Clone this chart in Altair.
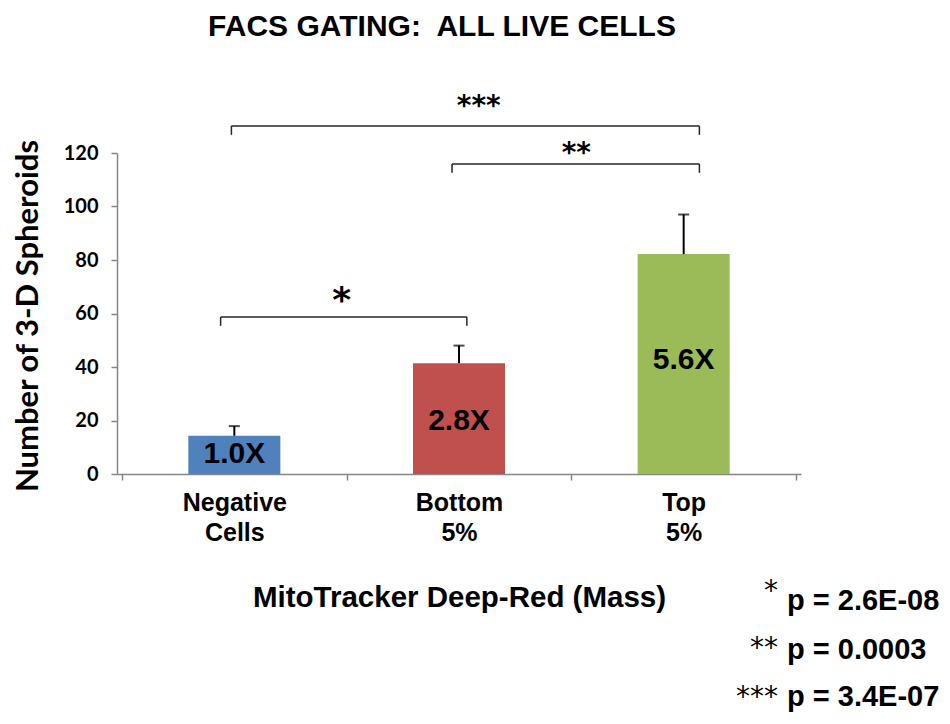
import altair as alt
import pandas as pd

# ---------------- data ----------------
categories = ["Negative Cells", "Bottom 5%", "Top 5%"]
label_lines = [["Negative", "Cells"], ["Bottom", "5%"], ["Top", "5%"]]
means = [14.3, 41.4, 82.2]
err_upper = [17.9, 48.0, 97.0]
fold_labels = ["1.0X", "2.8X", "5.6X"]
fold_label_y = [4.1, 16.4, 39.4]
bar_colors = ["#4F81BD", "#C0504D", "#9BBB59"]

# significance brackets (x in category units 0..3, y in spheroid units)
bracket_stars = ["***", "**", "*"]
bracket_x1 = [0.487, 1.469, 0.439]
bracket_x2 = [2.570, 2.570, 1.535]
bracket_y = [130.1, 115.9, 58.7]
bracket_drop = 3.3
star_x = [1.588, 2.022, 0.978]
star_y = [134.2, 116.6, 60.6]
star_size = [28, 28, 36]

pvalue_stars = ["*", "**", "***"]
pvalue_text = ["p = 2.6E-08", "p = 0.0003", "p = 3.4E-07"]

y_ticks = [0, 20, 40, 60, 80, 100, 120]
title_text = "FACS GATING:\u00a0 ALL LIVE CELLS"
x_title = "MitoTracker Deep-Red (Mass)"
y_title = "Number of 3-D Spheroids"

# ---------------- tables ----------------
pos = [i + 0.5 for i in range(len(categories))]
bars = pd.DataFrame({
    "cat": categories, "pos": pos, "mean": means, "upper": err_upper,
    "label": fold_labels, "label_y": fold_label_y, "color": bar_colors,
})

seg_rows = []
for x1, x2, y in zip(bracket_x1, bracket_x2, bracket_y):
    seg_rows.append({"x": x1, "x2": x2, "y": y, "y2": y})
    seg_rows.append({"x": x1, "x2": x1, "y": y, "y2": y - bracket_drop})
    seg_rows.append({"x": x2, "x2": x2, "y": y, "y2": y - bracket_drop})
segs = pd.DataFrame(seg_rows)

stars = pd.DataFrame({"x": star_x, "y": star_y, "t": bracket_stars, "s": star_size})

# ---------------- axes / scales ----------------
W, H = 684, 321
AXC = "#868686"
xs = alt.Scale(domain=[0, 3], nice=False, zero=False)
ys = alt.Scale(domain=[0, 120], nice=False)

expr = "''"
for p, lines in reversed(list(zip(pos, label_lines))):
    arr = "[" + ",".join("'%s'" % s for s in lines) + "]"
    expr = "datum.value == %s ? %s : (%s)" % (p, arr, expr)

x_axis = alt.Axis(
    values=[0, 0.5, 1, 1.5, 2, 2.5, 3], labelExpr=expr,
    tickOpacity={"condition": {"test": "datum.value % 1 === 0", "value": 1}, "value": 0},
    tickSize=6, tickColor=AXC, tickWidth=1.5, domainColor=AXC, domainWidth=1.5,
    labelFont="Liberation Sans", labelFontWeight="bold", labelFontSize=25,
    labelColor="black", labelPadding=30, labelBaseline="alphabetic",
    labelLineHeight=30, labelOverlap=False, labelBound=False, labelFlush=False,
    grid=False, title=x_title, titleFont="Liberation Sans", titleFontSize=29.5,
    titleFontWeight="bold", titleColor="black", titleX=W / 2, titleY=132,
    titleBaseline="alphabetic", titleAlign="center",
)
y_axis = alt.Axis(
    values=y_ticks, tickSize=6, tickColor=AXC, tickWidth=1.5, domainColor=AXC,
    domainWidth=1.5, labelFont="Lato", labelFontWeight="bold", labelFontSize=20,
    labelPadding=13, labelColor="black", grid=False, title=y_title,
    titleFont="Lato", titleFontSize=31, titleFontWeight="bold", titleColor="black",
    titleX=-80, titleY=H / 2 + 2, titleAngle=270, titleBaseline="alphabetic",
    titleAlign="center",
)


def X(f):
    return alt.X(f, scale=xs, axis=x_axis, title=x_title)


def Y(f):
    return alt.Y(f, scale=ys, axis=y_axis, title=y_title)


# ---------------- layers ----------------
bar_layer = alt.Chart(bars).mark_bar(size=92).encode(
    x=X("pos:Q"), y=Y("mean:Q"),
    color=alt.Color("color:N", scale=None),
)
err_layer = alt.Chart(bars).mark_rule(color="black", strokeWidth=2).encode(
    x=X("pos:Q"), y=Y("mean:Q"), y2="upper:Q",
)
cap_layer = alt.Chart(bars).mark_tick(orient="horizontal", size=11, thickness=2, color="black").encode(
    x=X("pos:Q"), y=Y("upper:Q"),
)
fold_layer = alt.Chart(bars).mark_text(
    font="Liberation Sans", fontSize=30, fontWeight="bold", color="black",
    align="center", baseline="alphabetic",
).encode(x=X("pos:Q"), y=Y("label_y:Q"), text="label:N")
bracket_layer = alt.Chart(segs).mark_rule(color="#262626", strokeWidth=1.5).encode(
    x=X("x:Q"), x2="x2:Q", y=Y("y:Q"), y2="y2:Q",
)
star_layer = alt.Chart(stars).mark_text(
    font="DejaVu Sans", fontWeight="bold", color="black", align="center",
    baseline="alphabetic",
).encode(
    x=X("x:Q"), y=Y("y:Q"), text="t:N",
    size=alt.Size("s:Q", scale=None),
)

one = pd.DataFrame({"t": [title_text]})
title_layer = alt.Chart(one).mark_text(
    font="Liberation Sans", fontSize=30, fontWeight="bold", color="black",
    align="center", baseline="alphabetic",
).encode(x=alt.value(325), y=alt.value(-117), text="t:N")

layers = [bar_layer, err_layer, cap_layer, fold_layer, bracket_layer, star_layer, title_layer]

p_text_y = [457, 506, 553]
p_star_y = [447, 504, 553]
for s, t, ty, sy in zip(pvalue_stars, pvalue_text, p_text_y, p_star_y):
    d = pd.DataFrame({"s": [s], "t": [t]})
    layers.append(alt.Chart(d).mark_text(
        font="Liberation Sans", fontSize=29, fontWeight="bold", color="black",
        align="left", baseline="alphabetic",
    ).encode(x=alt.value(670), y=alt.value(ty), text="t:N"))
    layers.append(alt.Chart(d).mark_text(
        font="DejaVu Sans", fontSize=28, color="black",
        align="right", baseline="alphabetic",
    ).encode(x=alt.value(661), y=alt.value(sy), text="s:N"))

chart = alt.layer(*layers).properties(
    width=W, height=H,
    autosize=alt.AutoSizeParams(type="none"),
    padding={"left": 109, "top": 145, "right": 140, "bottom": 240},
).configure_view(stroke=None)

chart.save("out.html", embed_options={"renderer": "svg", "actions": False})
